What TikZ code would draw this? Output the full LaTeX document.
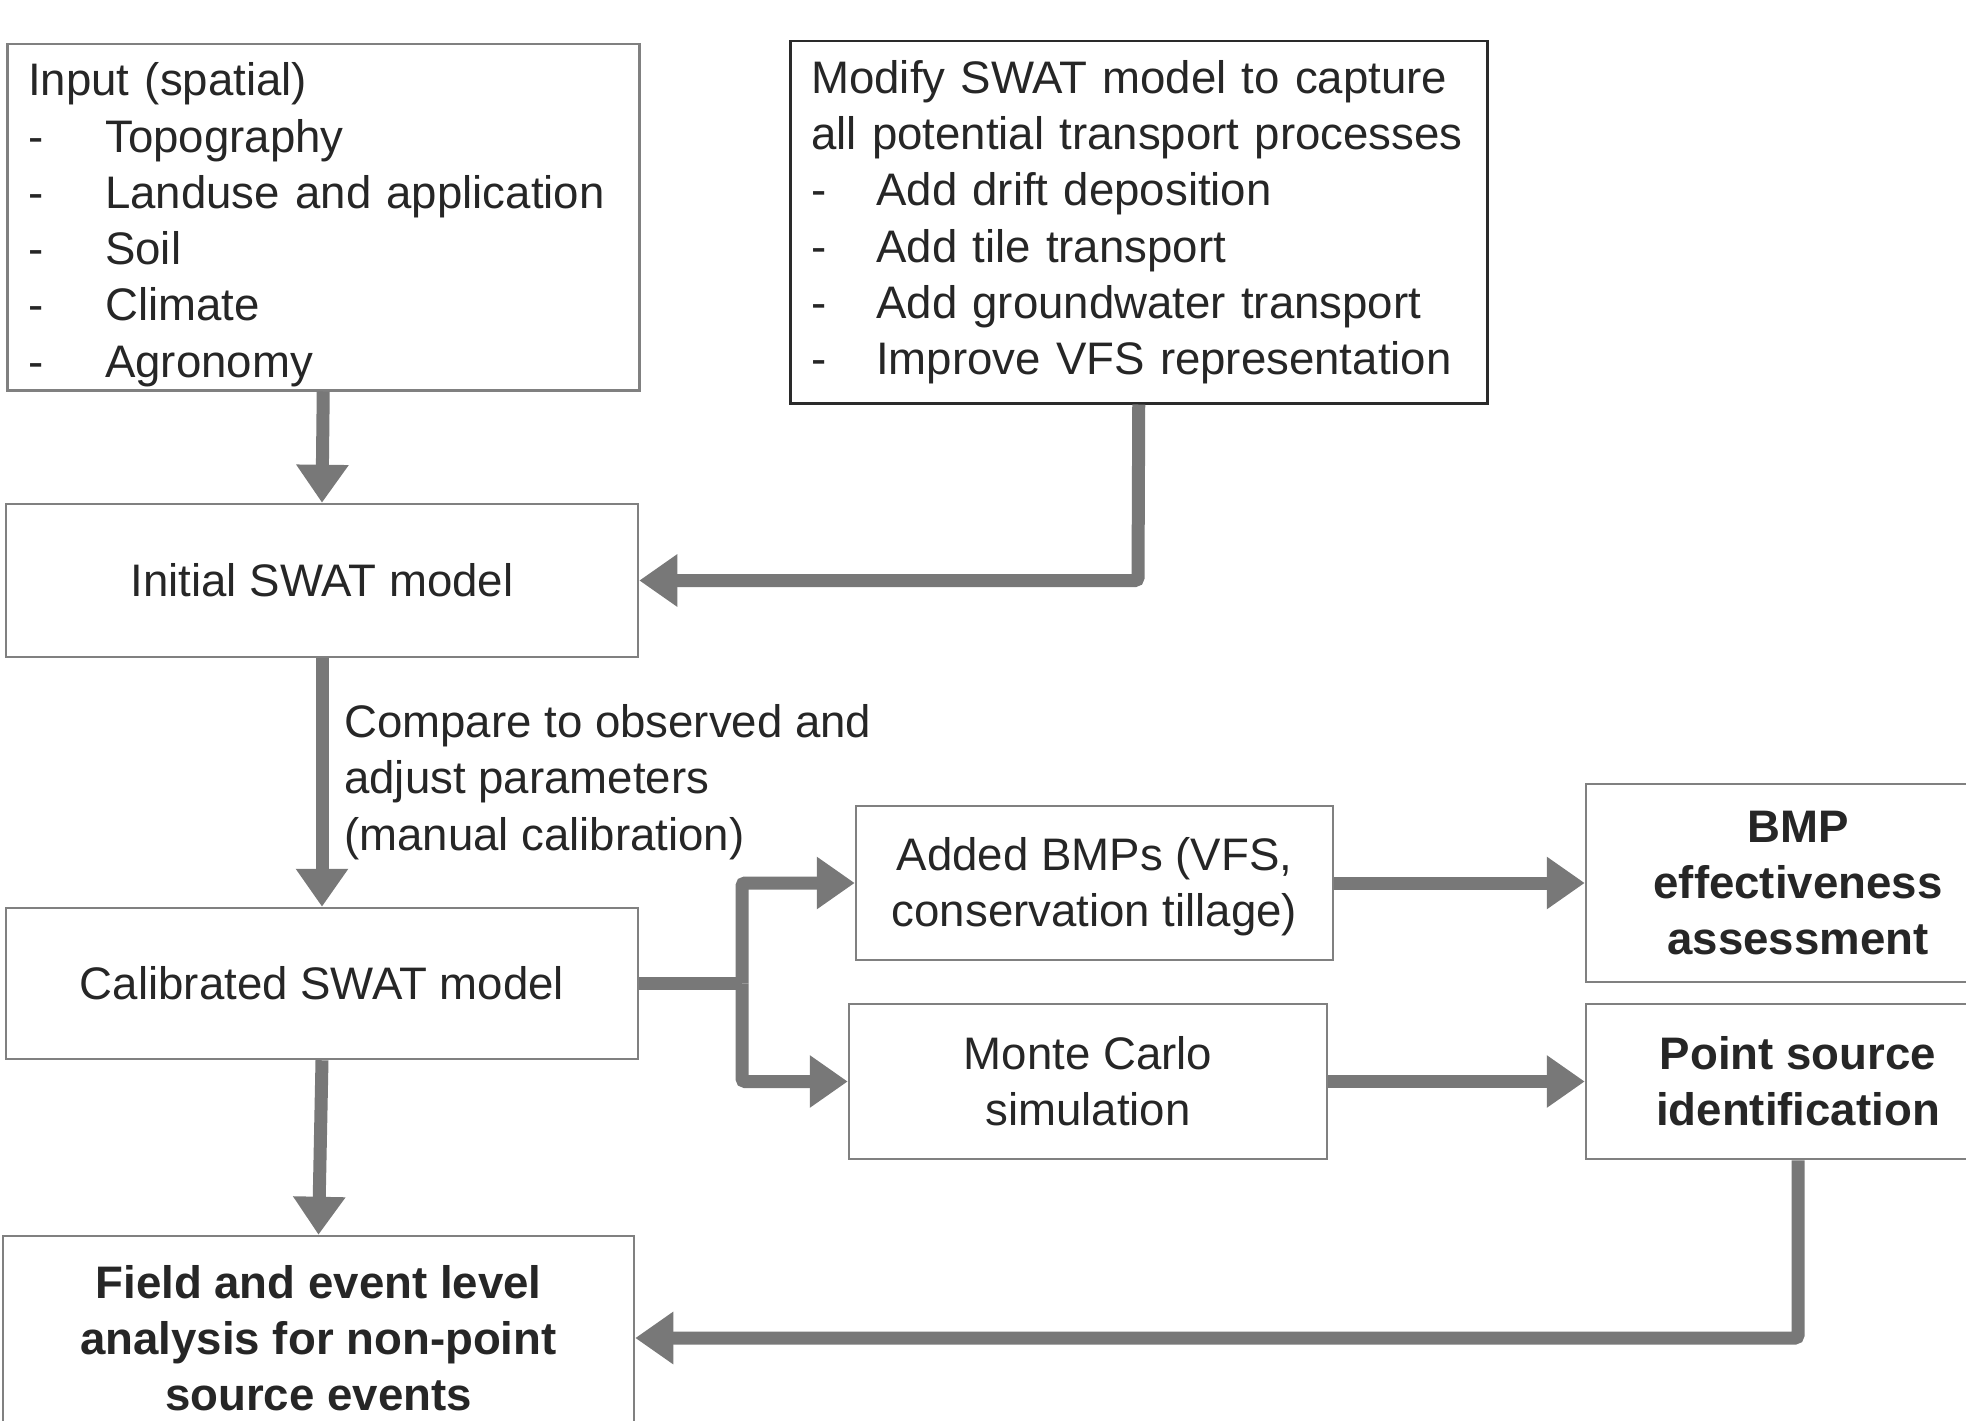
\documentclass[tikz,border=0pt]{standalone}
\usepackage{fontspec}
\setmainfont{Liberation Sans}
\usetikzlibrary{arrows.meta}
\definecolor{txt}{HTML}{262626}
\definecolor{bord}{HTML}{808080}
\definecolor{darkbord}{HTML}{2A2A2A}
\definecolor{arrg}{HTML}{787878}
\newcommand{\fsz}{\fontsize{45.6}{56.3}\selectfont}
\begin{document}
\begin{tikzpicture}[x=1pt,y=-1pt,
  every node/.style={font=\fsz, text=txt},
  box/.style={draw=bord, line width=2.5pt, rectangle, inner sep=0pt, align=center},
  listbox/.style={draw=bord, line width=2.5pt, rectangle, inner xsep=21pt, inner ysep=0pt, align=left, anchor=north west},
  arr/.style={draw=arrg, line width=13pt, rounded corners=3pt, -{Triangle[width=50pt,length=38pt]}},
  arrline/.style={draw=arrg, line width=13pt, rounded corners=3pt}]
\useasboundingbox (0,0) rectangle (1966,1421);

\node[listbox, minimum width=632pt, minimum height=346pt, text width=590pt] (input) at (6,43)
  {\mbox{\rule{0pt}{48pt}Input (spatial)}\\
   \mbox{\makebox[77pt][l]{-}Topography}\\
   \mbox{\makebox[77pt][l]{-}Landuse and application}\\
   \mbox{\makebox[77pt][l]{-}Soil}\\
   \mbox{\makebox[77pt][l]{-}Climate}\\
   \mbox{\makebox[77pt][l]{-}Agronomy}};

\node[listbox, draw=darkbord, minimum width=697pt, minimum height=362pt, text width=655pt] (modify) at (789,40)
  {\mbox{Modify SWAT model to capture}\\
   \mbox{all potential transport processes}\\
   \mbox{\makebox[65pt][l]{-}Add drift deposition}\\
   \mbox{\makebox[65pt][l]{-}Add tile transport}\\
   \mbox{\makebox[65pt][l]{-}Add groundwater transport}\\
   \mbox{\makebox[65pt][l]{-}Improve VFS representation}};

\node[box, minimum width=632pt, minimum height=153pt] (init) at (322,580.5) {Initial SWAT model};
\node[box, minimum width=632pt, minimum height=151pt] (cal) at (322,983.5) {Calibrated SWAT model};
\node[box, minimum width=631pt, minimum height=204pt, font=\fsz\bfseries] (field) at (318.5,1338)
  {Field and event level\\analysis for non-point\\source events};
\node[box, minimum width=477pt, minimum height=154pt] (added) at (1094.5,883) {\rule{0pt}{40pt}Added BMPs (VFS,\\conservation tillage)};
\node[box, minimum width=478pt, minimum height=155pt] (mc) at (1088,1081.5) {Monte Carlo\\simulation};
\node[box, minimum width=424pt, minimum height=198pt, font=\fsz\bfseries] (bmpe) at (1798,883)
  {BMP\\effectiveness\\assessment};
\node[box, minimum width=424pt, minimum height=155pt, font=\fsz\bfseries] (ps) at (1798,1081.5)
  {Point source\\identification};

\node[anchor=west, align=left, inner sep=0pt] (lbl) at (344,782)
  {Compare to observed and\\adjust parameters\\(manual calibration)};

\coordinate (br) at (742,983.5);
\coordinate (mcorner) at (1138,580.5);
\coordinate (pcorner) at (1798,1338);

\draw[arr] (input.south) -- (init.north);
\draw[arr] (modify.south) -- (mcorner) -- (init.east);
\draw[arr] (init.south) -- (cal.north);
\draw[arr] (cal.south) -- (field.north);
\draw[arrline] (cal.east) -- (br);
\draw[arr] (br) |- (added.west);
\draw[arr] (br) |- (mc.west);
\draw[arr] (added.east) -- (bmpe.west);
\draw[arr] (mc.east) -- (ps.west);
\draw[arr] (ps.south) -- (pcorner) -- (field.east);
\end{tikzpicture}
\end{document}
